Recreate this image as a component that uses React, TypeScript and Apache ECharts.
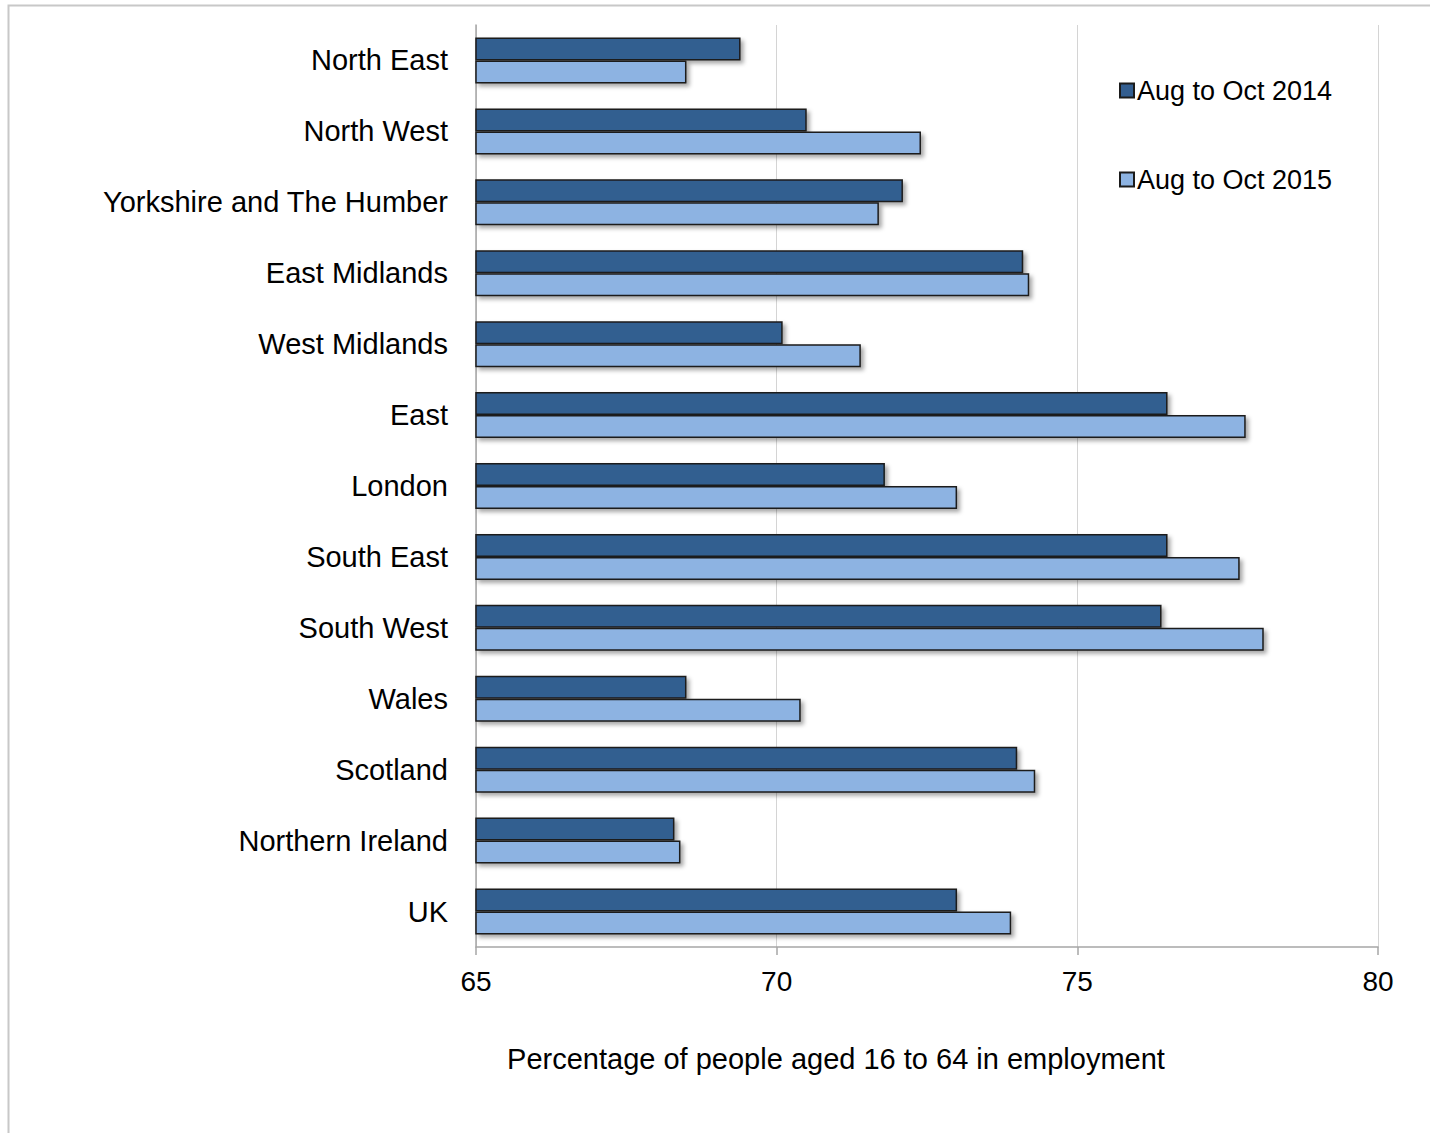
import React, { useEffect, useRef } from "react";
import * as echarts from "echarts";

const categories = [
  "North East",
  "North West",
  "Yorkshire and The Humber",
  "East Midlands",
  "West Midlands",
  "East",
  "London",
  "South East",
  "South West",
  "Wales",
  "Scotland",
  "Northern Ireland",
  "UK",
];

const series2014 = [69.4, 70.5, 72.1, 74.1, 70.1, 76.5, 71.8, 76.5, 76.4, 68.5, 74.0, 68.3, 73.0];
const series2015 = [68.5, 72.4, 71.7, 74.2, 71.4, 77.8, 73.0, 77.7, 78.1, 70.4, 74.3, 68.4, 73.9];

const seriesNames = ["Aug to Oct 2014", "Aug to Oct 2015"];
const axisTitle = "Percentage of people aged 16 to 64 in employment";

const FONT = "'Liberation Sans', Arial, sans-serif";

export default function App() {
  const ref = useRef<HTMLDivElement>(null);

  useEffect(() => {
    document.body.style.margin = "0";
    if (!ref.current) return;
    const chart = echarts.init(ref.current, undefined, { renderer: "svg" });
    const barStyle = (color: string) => ({
      color,
      borderColor: "#1b1b1b",
      borderWidth: 1.5,
      shadowColor: "rgba(0,0,0,0.35)",
      shadowBlur: 4,
      shadowOffsetX: 3,
      shadowOffsetY: 3,
    });
    chart.setOption({
      animation: false,
      backgroundColor: "#ffffff",
      textStyle: { fontFamily: FONT },
      grid: { left: 476, right: 55, top: 25, bottom: 186, containLabel: false },
      legend: {
        orient: "vertical",
        left: 1114,
        top: 72,
        itemWidth: 14,
        itemHeight: 14,
        itemGap: 62,
        icon: "rect",
        textStyle: { fontSize: 27, color: "#000", fontFamily: FONT, padding: [0, 0, 0, -2] },
        data: seriesNames,
      },
      xAxis: {
        type: "value",
        min: 65,
        max: 80,
        interval: 5,
        axisLine: { show: true, lineStyle: { color: "#a6a6a6", width: 1.5 } },
        axisTick: { show: true, length: 8, lineStyle: { color: "#a6a6a6", width: 1.5 } },
        splitLine: { show: true, lineStyle: { color: "#d4d4d4", width: 1 } },
        axisLabel: { fontSize: 28, color: "#000", margin: 20, fontFamily: FONT },
      },
      yAxis: {
        type: "category",
        inverse: true,
        data: categories,
        axisLine: { show: true, lineStyle: { color: "#a6a6a6", width: 1.5 } },
        axisTick: { show: false },
        axisLabel: { fontSize: 29, color: "#000", margin: 28, fontFamily: FONT },
      },
      series: [
        {
          name: seriesNames[0],
          type: "bar",
          data: series2014,
          barWidth: 23,
          barGap: "0%",
          itemStyle: barStyle("#335e90"),
        },
        {
          name: seriesNames[1],
          type: "bar",
          data: series2015,
          barWidth: 23,
          barGap: "0%",
          itemStyle: barStyle("#8db3e2"),
        },
      ],
      graphic: [
        {
          type: "polyline",
          shape: { points: [[8.5, 1133], [8.5, 5.5], [1430, 5.5]] },
          style: { stroke: "#c8c8c8", lineWidth: 2, fill: "none" },
          silent: true,
        },
        {
          type: "text",
          x: 836,
          y: 1059,
          style: {
            text: axisTitle,
            font: `29px ${FONT}`,
            fill: "#000",
            textAlign: "center",
            textVerticalAlign: "middle",
          },
        },
      ],
    });
    return () => chart.dispose();
  }, []);

  return <div ref={ref} style={{ width: 1433, height: 1133 }} />;
}
